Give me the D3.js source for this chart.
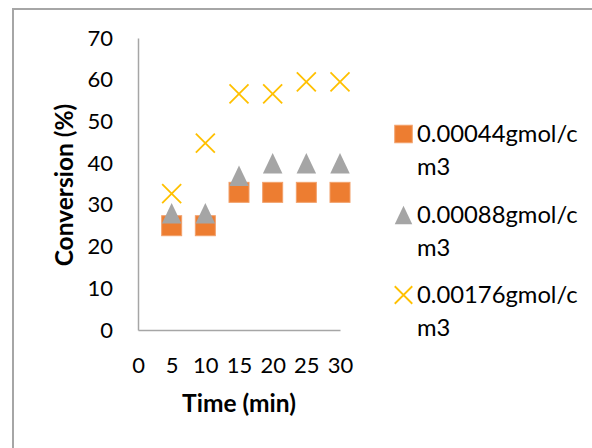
<!DOCTYPE html>
<html>
<head>
<meta charset="utf-8">
<script src="https://cdn.jsdelivr.net/npm/d3@7"></script>
<style>
  html, body { margin: 0; padding: 0; background: #fff; }
  svg { display: block; }
  text { font-family: Lato, "Open Sans", sans-serif; fill: #000; }
</style>
</head>
<body>
<script>
// Conversion over time for three catalyst concentrations
const times = [5, 10, 15, 20, 25, 30];
const xTicks = [0, 5, 10, 15, 20, 25, 30];
const yTicks = [0, 10, 20, 30, 40, 50, 60, 70];
const conc044 = [25, 25, 33, 33, 33, 33];
const conc088 = [28, 28, 37, 40, 40, 40];
const conc176 = [32.7, 44.8, 56.6, 56.6, 59.5, 59.5];
const seriesLabels = [
  ["0.00044gmol/c", "m3"],
  ["0.00088gmol/c", "m3"],
  ["0.00176gmol/c", "m3"]
];

const W = 592, H = 448;
const svg = d3.select("body").append("svg").attr("width", W).attr("height", H);

// chart frame (only top and left edges fall inside the view)
svg.append("path")
  .attr("d", `M13,${H} L13,9 L${W},9`)
  .attr("fill", "none")
  .attr("stroke", "#a6a6a6")
  .attr("stroke-width", 2);

const x = d3.scaleLinear().domain([0, 30]).range([138, 340]);
const y = d3.scaleLinear().domain([0, 70]).range([330, 38]);

const tickFont = 22, titleFont = 24.5, legendFont = 23.8;

// axes
const gx = svg.append("g").attr("transform", `translate(0,${y(0)})`)
  .call(d3.axisBottom(x).tickValues(xTicks).tickSize(0).tickSizeOuter(0).tickPadding(27));
const gy = svg.append("g").attr("transform", `translate(${x(0)},0)`)
  .call(d3.axisLeft(y).tickValues(yTicks).tickSize(0).tickSizeOuter(0).tickPadding(25));
[gx, gy].forEach(g => {
  g.select(".domain").attr("stroke", "#a6a6a6").attr("stroke-width", 1.5);
  g.selectAll("text").attr("font-family", "Lato, sans-serif").attr("font-size", tickFont).attr("fill", "#000");
});

// axis titles
svg.append("text")
  .attr("transform", `translate(64,185) rotate(-90)`)
  .attr("text-anchor", "middle").attr("dy", "0.35em")
  .attr("font-size", titleFont).attr("font-weight", "bold")
  .text("Conversion (%)");
svg.append("text")
  .attr("x", 239).attr("y", 412)
  .attr("text-anchor", "middle")
  .attr("font-size", titleFont).attr("font-weight", "bold")
  .text("Time (min)");

const orange = "#ed7d31", gray = "#a5a5a5", gold = "#ffc000";

// marker painters, centred on (cx, cy)
function square(g, cx, cy, s) {
  g.append("rect").attr("x", cx - s / 2).attr("y", cy - s / 2)
    .attr("width", s).attr("height", s)
    .attr("fill", orange).attr("stroke", "#f2a06a").attr("stroke-width", 1);
}
function triangle(g, cx, cy, s) {
  const h = s * 1.05;
  g.append("path")
    .attr("d", `M${cx},${cy - h / 2} L${cx + s / 2},${cy + h / 2} L${cx - s / 2},${cy + h / 2} Z`)
    .attr("fill", gray);
}
function cross(g, cx, cy, s) {
  const r = s / 2;
  g.append("path")
    .attr("d", `M${cx - r},${cy - r} L${cx + r},${cy + r} M${cx + r},${cy - r} L${cx - r},${cy + r}`)
    .attr("stroke", gold).attr("stroke-width", 1.8).attr("fill", "none");
}

const marks = svg.append("g");
times.forEach((t, i) => square(marks, x(t), y(conc044[i]), 20));
times.forEach((t, i) => triangle(marks, x(t), y(conc088[i]), 19.5));
times.forEach((t, i) => cross(marks, x(t), y(conc176[i]), 19));

// legend
const painters = [square, triangle, cross];
const legendTop = [142, 223, 303];
const legend = svg.append("g");
seriesLabels.forEach((lines, i) => {
  const base = legendTop[i];
  painters[i](legend, 403.5, base - 8, 17.5);
  lines.forEach((ln, j) => {
    legend.append("text")
      .attr("x", 417).attr("y", base + j * 33)
      .attr("font-size", legendFont)
      .text(ln);
  });
});
</script>
</body>
</html>
